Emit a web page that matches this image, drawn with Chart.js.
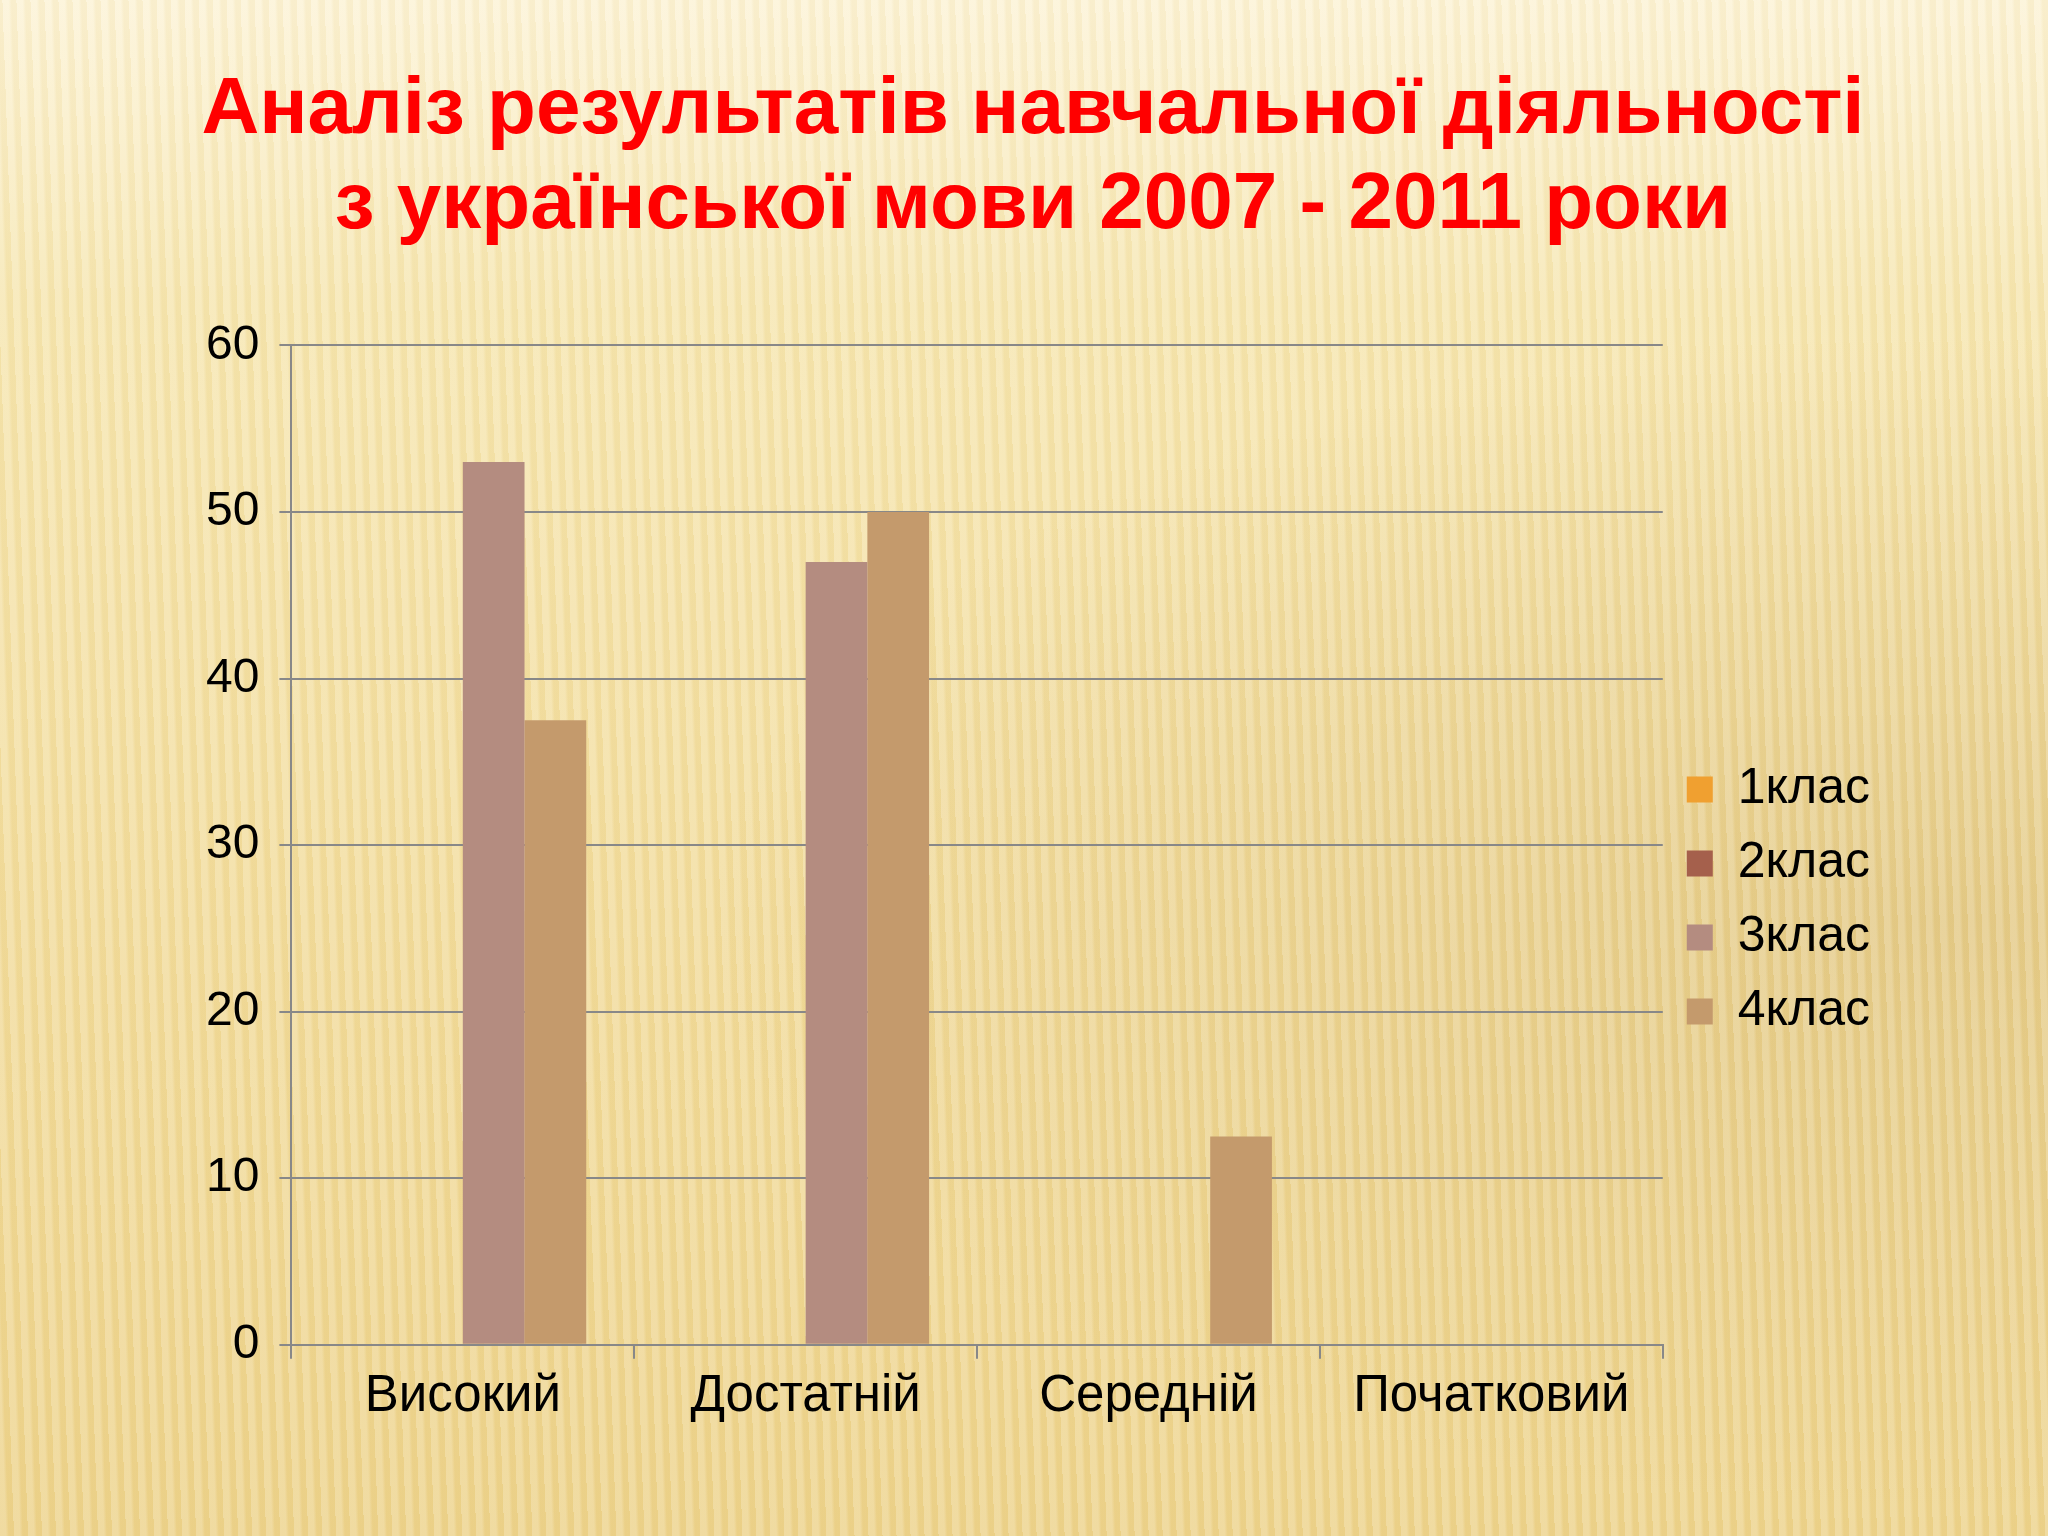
<!DOCTYPE html>
<html><head><meta charset="utf-8">
<script src="https://cdn.jsdelivr.net/npm/chart.js@4/dist/chart.umd.min.js"></script>
<style>
html,body{margin:0;padding:0;width:2048px;height:1536px;overflow:hidden;}
body{background:
 repeating-linear-gradient(88deg, rgba(255,255,255,0.18) 0px, rgba(255,255,255,0.18) 6px, rgba(200,160,60,0.06) 9px, rgba(200,160,60,0.06) 14px),
 radial-gradient(ellipse at 95% 60%, rgba(210,180,110,0.45), rgba(0,0,0,0) 45%),
 linear-gradient(180deg,#FCF3D6 0%,#F6E6B0 20%,#F2DC9C 60%,#EDD38C 100%);}
#c{position:absolute;left:0;top:0;}
</style></head><body>
<canvas id="c" width="2048" height="1536"></canvas>
<script>
const categories=["Високий","Достатній","Середній","Початковий"];
const seriesNames=["1клас","2клас","3клас","4клас"];
const s1=[0,0,0,0];
const s2=[0,0,0,0];
const s3=[53,47,0,0];
const s4=[37.5,50,12.5,0];
const colors=["#F0A030","#A5604C","#B48C80","#C49A6C"];
const font="'Liberation Sans', Arial, sans-serif";
new Chart(document.getElementById('c'),{
 type:'bar',
 data:{labels:categories,datasets:[s1,s2,s3,s4].map((d,i)=>({label:seriesNames[i],data:d,backgroundColor:colors[i],categoryPercentage:0.72,barPercentage:1}))},
 options:{responsive:false,animation:false,devicePixelRatio:1,
  layout:{padding:{left:186,right:168,top:63,bottom:100}},
  plugins:{
   title:{display:true,text:["Аналіз результатів навчальної діяльності","з української мови 2007 - 2011 роки"],color:"#FF0000",font:{family:font,size:80,weight:'bold',lineHeight:1.19},padding:{top:0,bottom:92}},
   legend:{position:'right',title:{display:true,text:' ',font:{size:10},padding:{top:290,bottom:0}},
     labels:{color:"#000",font:{family:font,size:50},boxWidth:26,boxHeight:26,padding:24,useBorderRadius:false}}
  },
  scales:{
   x:{grid:{drawOnChartArea:false,color:"#888",tickLength:14,lineWidth:2},border:{color:"#888",width:2},
      ticks:{color:"#000",font:{family:font,size:51},padding:8}},
   y:{min:0,max:60,ticks:{stepSize:10,color:"#000",font:{family:font,size:48},padding:20},
      grid:{color:"#888",lineWidth:2,tickLength:12},border:{color:"#888",width:2}}
  }
 }
});
</script></body></html>
